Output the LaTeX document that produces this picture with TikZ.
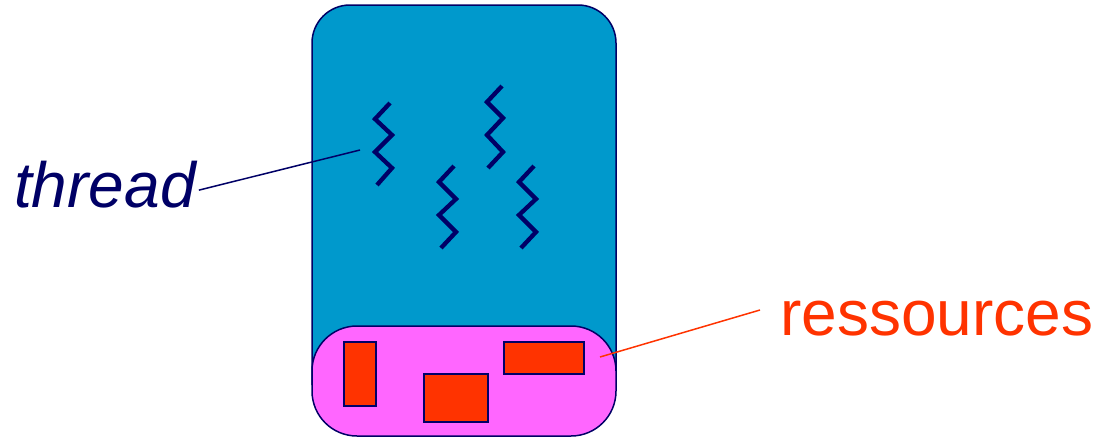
\documentclass[tikz,border=0pt]{standalone}
\usepackage{fontspec}
\setmainfont{Liberation Sans}
\definecolor{boxblue}{HTML}{0099CC}
\definecolor{navy}{HTML}{000066}
\definecolor{respink}{HTML}{FF66FF}
\definecolor{resred}{HTML}{FF3300}
\begin{document}
\begin{tikzpicture}[x=1pt,y=-1pt,
  zig/.style={draw=navy,line width=4.3pt,line join=miter},
  res/.style={draw=navy,fill=resred,line width=2pt},
  lbl/.style={inner sep=0pt,font=\fontsize{64}{70}\selectfont}]
\useasboundingbox (0,0) rectangle (1096,437);
% process box (bottom hidden under resource area)
\draw[fill=boxblue,draw=navy,line width=1.5pt,rounded corners=38pt] (312,385) -- (312,5) -- (616,5) -- (616,385);
% resource area
\draw[fill=respink,draw=navy,line width=1.5pt,rounded corners=45pt] (312,326) rectangle (616,436);
\draw[res] (343.5,342) rectangle (376,406);
\draw[res] (424,374) rectangle (488,422);
\draw[res] (504,342) rectangle (584,374);
% threads
\draw[zig] (390,103)--(375,119)--(392,135)--(375,152)--(392,168)--(377,185);
\draw[zig] (502,86)--(487,102)--(503,118)--(487,135)--(503,152)--(488,168);
\draw[zig] (454,166)--(439,182)--(456,199)--(439,215)--(456,232)--(441,248);
\draw[zig] (534,166)--(519,182)--(536,199)--(519,215)--(536,232)--(521,248);
% labels
\node[lbl,text=navy,anchor=base west,font=\fontsize{64}{70}\selectfont\itshape] (thread) at (14,207) {thread};
\coordinate (threadend) at (360,150);
\path (thread.east) ++(3pt,-6pt) coordinate (threadstart);
\draw[navy,line width=1.5pt] (threadstart) -- (threadend);
\node[lbl,text=resred,anchor=base west] (ress) at (780,335) {ressources};
\coordinate (resend) at (600,357);
\coordinate (resstart) at (760,310);
\draw[resred,line width=1.5pt] (resstart) -- (resend);
\end{tikzpicture}
\end{document}
